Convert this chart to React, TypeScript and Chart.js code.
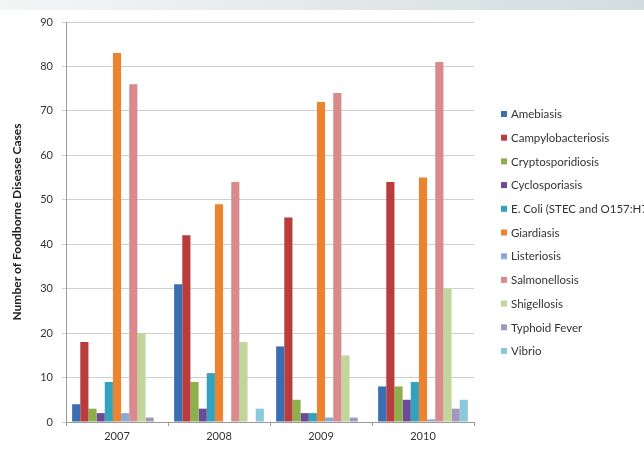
import React, { useEffect, useRef } from "react";
import { Chart, registerables } from "chart.js";

Chart.register(...registerables);

const years = ["2007", "2008", "2009", "2010"];
const seriesNames = [
  "Amebiasis",
  "Campylobacteriosis",
  "Cryptosporidiosis",
  "Cyclosporiasis",
  "E. Coli (STEC and O157:H7)",
  "Giardiasis",
  "Listeriosis",
  "Salmonellosis",
  "Shigellosis",
  "Typhoid Fever",
  "Vibrio",
];
const amebiasis = [4, 31, 17, 8];
const campylobacteriosis = [18, 42, 46, 54];
const cryptosporidiosis = [3, 9, 5, 8];
const cyclosporiasis = [2, 3, 2, 5];
const eColi = [9, 11, 2, 9];
const giardiasis = [83, 49, 72, 55];
const listeriosis = [2, 0, 1, 0.6];
const salmonellosis = [76, 54, 74, 81];
const shigellosis = [20, 18, 15, 30];
const typhoidFever = [1, 0, 1, 3];
const vibrio = [0, 3, 0, 5];
const yTicks = [0, 10, 20, 30, 40, 50, 60, 70, 80, 90];

const seriesValues = [
  amebiasis,
  campylobacteriosis,
  cryptosporidiosis,
  cyclosporiasis,
  eColi,
  giardiasis,
  listeriosis,
  salmonellosis,
  shigellosis,
  typhoidFever,
  vibrio,
];
const colors = [
  "#3b6db1",
  "#b93d3d",
  "#8db04a",
  "#6b4b96",
  "#32a2be",
  "#ec842f",
  "#8aaad6",
  "#d98a8d",
  "#c0d69b",
  "#a397bf",
  "#8ac9dc",
];

const FONT = "Lato, 'Open Sans', sans-serif";

const legendPlugin = {
  id: "sideLegend",
  afterDraw(chart: any) {
    const ctx = chart.ctx;
    ctx.save();
    ctx.font = `11.5px ${FONT}`;
    ctx.textBaseline = "middle";
    ctx.textAlign = "left";
    chart.data.datasets.forEach((ds: any, i: number) => {
      const y = 114 + i * 23.7;
      ctx.fillStyle = ds.backgroundColor;
      ctx.fillRect(501, y - 3, 6, 6);
      ctx.fillStyle = "#333";
      ctx.fillText(ds.label, 511, y + 0.5);
    });
    ctx.restore();
  },
};

export default function App() {
  const ref = useRef<HTMLCanvasElement>(null);
  useEffect(() => {
    document.body.style.margin = "0";
    const chart = new Chart(ref.current!, {
      type: "bar",
      data: {
        labels: years,
        datasets: seriesNames.map((name, i) => ({
          label: name,
          data: seriesValues[i],
          backgroundColor: colors[i],
          borderWidth: 0,
          categoryPercentage: 0.88,
          barPercentage: 1,
        })),
      },
      options: {
        animation: false,
        responsive: false,
        layout: { padding: { top: 22, right: 170, left: 0, bottom: 0 } },
        plugins: { legend: { display: false }, tooltip: { enabled: false } },
        scales: {
          x: {
            grid: { drawOnChartArea: false, drawTicks: true, tickLength: 4, color: "#999" },
            border: { color: "#999" },
            ticks: { font: { family: FONT, size: 11 }, color: "#333", padding: 4 },
            afterFit: (s: any) => {
              s.height = 33;
            },
          },
          y: {
            min: 0,
            max: 90,
            afterBuildTicks: (s: any) => {
              s.ticks = yTicks.map((v) => ({ value: v }));
            },
            grid: { color: "#cfcfcf", tickLength: 4 },
            border: { color: "#999" },
            ticks: { font: { family: FONT, size: 11 }, color: "#333", padding: 9 },
            title: {
              display: true,
              text: "Number of Foodborne Disease Cases",
              font: { family: FONT, size: 12, weight: "bold" },
              color: "#222",
              padding: { top: 10, bottom: 0 },
            },
            afterFit: (s: any) => {
              s.width = 66;
            },
          },
        },
      },
      plugins: [legendPlugin],
    });
    return () => chart.destroy();
  }, []);
  return (
    <div style={{ position: "relative", width: 644, height: 455, background: "#fff" }}>
      <div
        style={{
          position: "absolute",
          left: 0,
          top: 0,
          width: 644,
          height: 10,
          background: "linear-gradient(to right, #f4f6f6, #d3dcdf)",
        }}
      />
      <canvas ref={ref} width={644} height={455} style={{ position: "absolute", left: 0, top: 0, display: "block" }} />
    </div>
  );
}
